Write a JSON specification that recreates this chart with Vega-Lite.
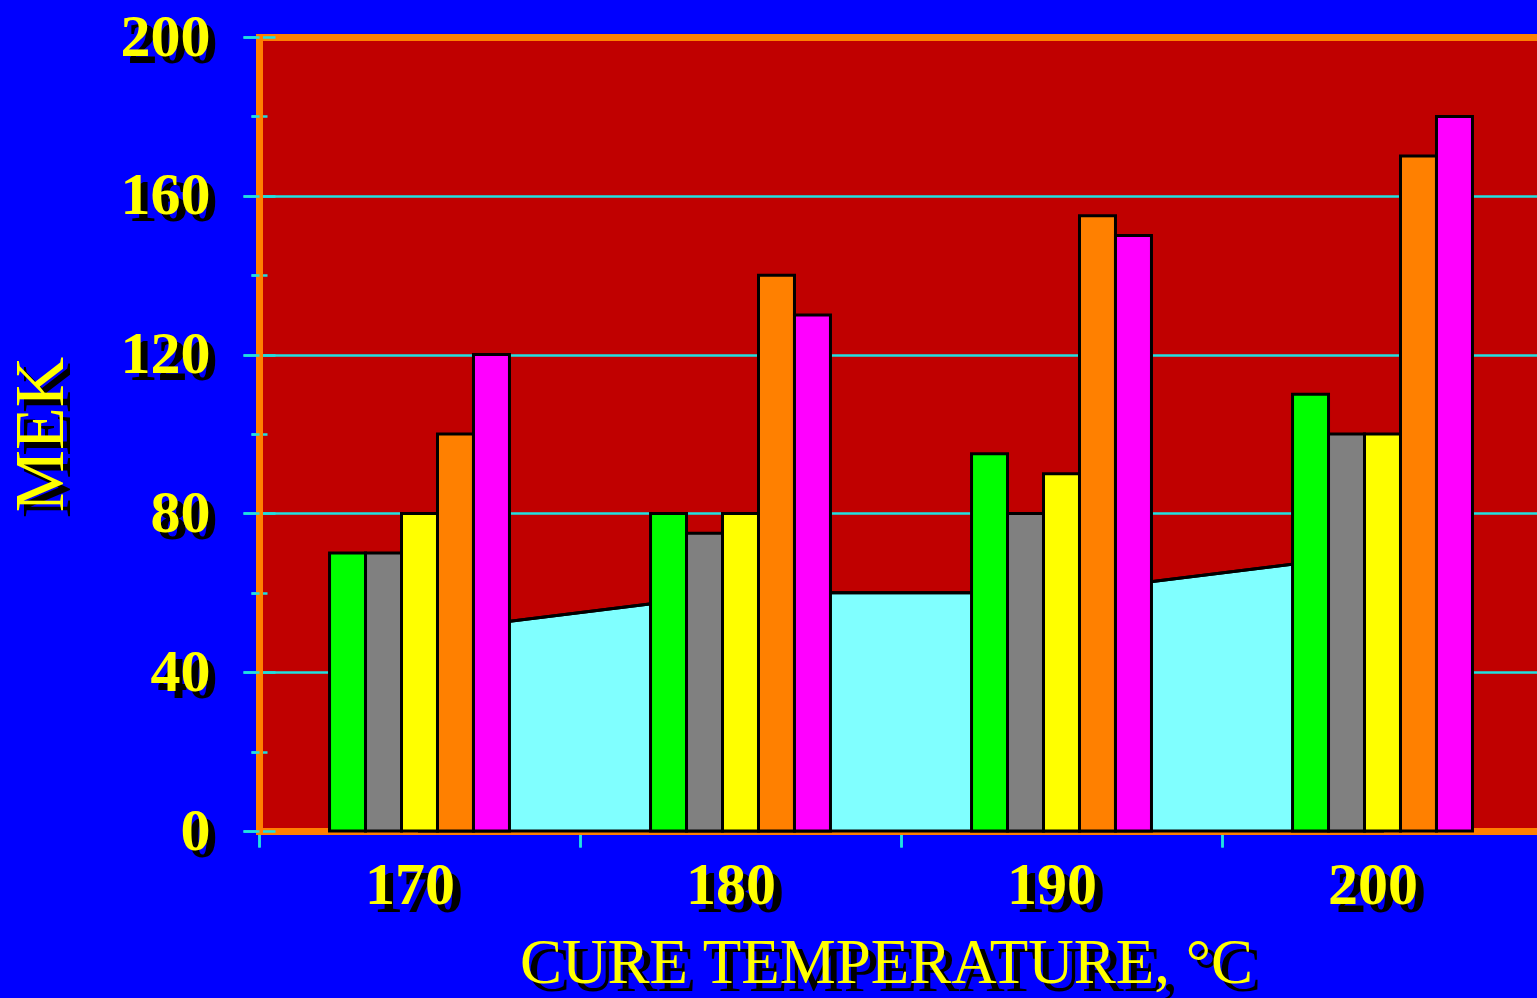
{
  "$schema": "https://vega.github.io/schema/vega-lite/v6.json",
  "width": 1284,
  "height": 794,
  "autosize": {"type": "none"},
  "padding": {"left": 259, "top": 37, "right": -6, "bottom": 167},
  "background": "#0000FF",
  "config": {
    "view": {"fill": "#C00000", "stroke": null}
  },
  "datasets": {
    "bars": [
      {"temp": "170", "series": "S1", "value": 70},
      {"temp": "170", "series": "S2", "value": 70},
      {"temp": "170", "series": "S3", "value": 80},
      {"temp": "170", "series": "S4", "value": 100},
      {"temp": "170", "series": "S5", "value": 120},
      {"temp": "180", "series": "S1", "value": 80},
      {"temp": "180", "series": "S2", "value": 75},
      {"temp": "180", "series": "S3", "value": 80},
      {"temp": "180", "series": "S4", "value": 140},
      {"temp": "180", "series": "S5", "value": 130},
      {"temp": "190", "series": "S1", "value": 95},
      {"temp": "190", "series": "S2", "value": 80},
      {"temp": "190", "series": "S3", "value": 90},
      {"temp": "190", "series": "S4", "value": 155},
      {"temp": "190", "series": "S5", "value": 150},
      {"temp": "200", "series": "S1", "value": 110},
      {"temp": "200", "series": "S2", "value": 100},
      {"temp": "200", "series": "S3", "value": 100},
      {"temp": "200", "series": "S4", "value": 170},
      {"temp": "200", "series": "S5", "value": 180}
    ],
    "base": [
      {"temp": "170", "value": 50},
      {"temp": "180", "value": 60},
      {"temp": "190", "value": 60},
      {"temp": "200", "value": 70}
    ]
  },
  "layer": [
    {
      "data": {"name": "base"},
      "mark": {"type": "area", "fill": "#80FFFF", "fillOpacity": 1, "stroke": "black", "strokeWidth": 3},
      "encoding": {
        "x": {
          "field": "temp", "type": "nominal",
          "scale": {"type": "band", "paddingInner": 0, "paddingOuter": 0},
          "axis": {
            "orient": "bottom",
            "title": "CURE TEMPERATURE, °C",
            "titleColor": "black", "titleFont": "Liberation Serif", "titleFontSize": 63, "titleFontWeight": "normal",
            "titleX": 635, "titleY": 159, "titleAlign": "center", "titleBaseline": "alphabetic",
            "labelAngle": 0, "labelColor": "black", "labelFont": "Liberation Serif", "labelFontSize": 60, "labelFontWeight": "bold",
            "labelBaseline": "alphabetic", "labelPadding": 64, "labelOffset": -2,
            "tickBand": "extent", "ticks": true, "tickSize": 16, "tickColor": "#20E0E0", "tickWidth": 2.5,
            "domain": false, "grid": false
          }
        },
        "y": {
          "field": "value", "type": "quantitative",
          "scale": {"domain": [0, 200], "nice": false},
          "axis": {
            "orient": "left",
            "values": [0, 20, 40, 60, 80, 100, 120, 140, 160, 180, 200],
            "labelExpr": "datum.value % 40 === 0 ? datum.label : ''",
            "title": "MEK",
            "titleColor": "black", "titleFont": "Liberation Serif", "titleFontSize": 70, "titleFontWeight": "normal",
            "titleAngle": -90, "titleX": -190, "titleY": 403, "titleAlign": "center", "titleBaseline": "alphabetic",
            "labelColor": "black", "labelFont": "Liberation Serif", "labelFontSize": 60, "labelFontWeight": "bold",
            "labelPadding": 26, "labelOffset": 7, "labelBaseline": "middle", "labelAlign": "right",
            "labelOverlap": false, "labelFlush": false, "labelBound": false,
            "ticks": true, "tickColor": "#20E0E0", "tickWidth": 2.5,
            "tickSize": {"condition": {"test": "datum.value % 40 === 0", "value": 16}, "value": 8},
            "domain": false, "grid": false
          }
        }
      }
    },
    {
      "data": {"name": "base"},
      "mark": {"type": "line", "color": "black", "strokeWidth": 3},
      "encoding": {
        "x": {
          "field": "temp", "type": "nominal",
          "scale": {"type": "band", "paddingInner": 0, "paddingOuter": 0},
          "axis": {
            "orient": "top", "title": null, "labels": false, "ticks": false, "grid": false,
            "domain": true, "domainColor": "#FF8000", "domainWidth": 7, "domainCap": "square"
          }
        },
        "y": {
          "field": "value", "type": "quantitative",
          "scale": {"domain": [0, 200], "nice": false},
          "axis": {
            "orient": "left", "title": null, "labels": false, "grid": false,
            "values": [0, 20, 40, 60, 80, 100, 120, 140, 160, 180, 200],
            "ticks": true, "tickColor": "#20E0E0", "tickWidth": 2.5,
            "tickSize": {"condition": {"test": "datum.value % 40 === 0", "value": -16}, "value": -8},
            "domain": true, "domainColor": "#FF8000", "domainWidth": 7, "domainCap": "square"
          }
        }
      }
    },
    {
      "data": {"name": "bars"},
      "mark": {"type": "bar", "stroke": "black", "strokeWidth": 3},
      "encoding": {
        "x": {
          "field": "temp", "type": "nominal",
          "scale": {"type": "band", "paddingInner": 0, "paddingOuter": 0},
          "axis": {
            "orient": "bottom",
            "title": "CURE TEMPERATURE, °C",
            "titleColor": "#FFFF00", "titleFont": "Liberation Serif", "titleFontSize": 63, "titleFontWeight": "normal",
            "titleX": 627, "titleY": 151, "titleAlign": "center", "titleBaseline": "alphabetic",
            "labelAngle": 0, "labelColor": "#FFFF00", "labelFont": "Liberation Serif", "labelFontSize": 60, "labelFontWeight": "bold",
            "labelBaseline": "alphabetic", "labelPadding": 56, "labelOffset": -10,
            "tickBand": "extent", "ticks": true, "tickSize": 16, "tickColor": "#20E0E0", "tickWidth": 2.5,
            "domain": true, "domainColor": "#FF8000", "domainWidth": 7, "domainCap": "square", "grid": false
          }
        },
        "xOffset": {
          "field": "series", "type": "nominal",
          "scale": {"domain": ["P1", "S1", "S2", "S3", "S4", "S5", "P2"], "paddingInner": 0, "paddingOuter": 0.96}
        },
        "y": {
          "field": "value", "type": "quantitative",
          "scale": {"domain": [0, 200], "nice": false},
          "axis": {
            "orient": "left",
            "values": [0, 20, 40, 60, 80, 100, 120, 140, 160, 180, 200],
            "labelExpr": "datum.value % 40 === 0 ? datum.label : ''",
            "title": "MEK",
            "titleColor": "#FFFF00", "titleFont": "Liberation Serif", "titleFontSize": 70, "titleFontWeight": "normal",
            "titleAngle": -90, "titleX": -197, "titleY": 397, "titleAlign": "center", "titleBaseline": "alphabetic",
            "labelColor": "#FFFF00", "labelFont": "Liberation Serif", "labelFontSize": 60, "labelFontWeight": "bold",
            "labelPadding": 33, "labelBaseline": "middle", "labelAlign": "right",
            "labelOverlap": false, "labelFlush": false, "labelBound": false,
            "ticks": true, "tickColor": "#20E0E0", "tickWidth": 2.5,
            "tickSize": {"condition": {"test": "datum.value % 40 === 0", "value": 16}, "value": 8},
            "domain": false,
            "grid": true, "gridColor": "#20E0E0", "gridWidth": 2.5,
            "gridOpacity": {"condition": {"test": "datum.value % 40 === 0", "value": 1}, "value": 0}
          }
        },
        "color": {
          "field": "series", "type": "nominal",
          "scale": {"domain": ["S1", "S2", "S3", "S4", "S5"], "range": ["#00FF00", "#808080", "#FFFF00", "#FF8000", "#FF00FF"]},
          "legend": null
        }
      }
    }
  ],
  "resolve": {"axis": {"x": "independent", "y": "independent"}}
}
